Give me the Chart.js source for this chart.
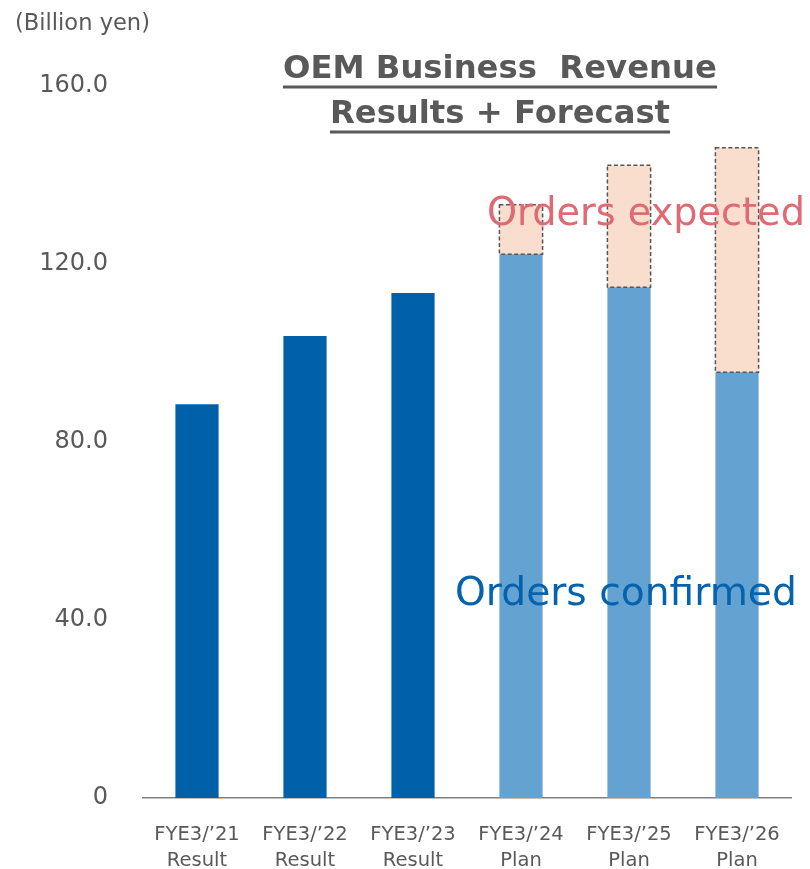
<!DOCTYPE html>
<html>
<head>
<meta charset="utf-8">
<script src="https://cdn.jsdelivr.net/npm/chart.js@4.4.1/dist/chart.umd.min.js"></script>
<style>
  html, body { margin: 0; padding: 0; background: #ffffff; }
  #wrap { position: relative; width: 810px; height: 869px; }
</style>
</head>
<body>
<div id="wrap"><canvas id="c" width="810" height="869"></canvas></div>
<script>
// ---- data ----
const categories = [["FYE3/\u201921", "Result"], ["FYE3/\u201922", "Result"], ["FYE3/\u201923", "Result"],
                    ["FYE3/\u201924", "Plan"], ["FYE3/\u201925", "Plan"], ["FYE3/\u201926", "Plan"]];
const resultValues    = [88.5, 103.8, 113.5, null, null, null];
const confirmedValues = [null, null, null, 122.2, 114.8, 95.7];
const expectedValues  = [null, null, null, 11.1, 27.4, 50.4];
const yTicks = [0, 40, 80, 120, 160];
const unitLabel = "(Billion yen)";
const titleLines = ["OEM Business  Revenue", "Results + Forecast"];
const expectedLabel = "Orders expected";
const confirmedLabel = "Orders confirmed";

const FONT = "'DejaVu Sans', Verdana, sans-serif";
const GREY = "#595959";

function fitFont(ctx, text, width, weight) {
  ctx.font = weight + " 40px " + FONT;
  const w = ctx.measureText(text).width;
  const size = 40 * width / w;
  ctx.font = weight + " " + size.toFixed(2) + "px " + FONT;
  return size;
}

const overlay = {
  id: 'overlay',
  afterDatasetsDraw(chart) {
    const ctx = chart.ctx;
    const meta = chart.getDatasetMeta(2);
    ctx.save();
    ctx.strokeStyle = "#555555";
    ctx.lineWidth = 1.5;
    ctx.setLineDash([4, 2.5]);
    meta.data.forEach((el, i) => {
      if (expectedValues[i] == null) return;
      const p = el.getProps(['x', 'y', 'base', 'width'], true);
      ctx.strokeRect(p.x - p.width / 2, p.y, p.width, p.base - p.y);
    });
    ctx.restore();
  },
  afterDraw(chart) {
    const ctx = chart.ctx;
    ctx.save();
    ctx.textBaseline = 'alphabetic';
    ctx.textAlign = 'left';
    ctx.fillStyle = GREY;
    fitFont(ctx, unitLabel, 135, 'normal');
    ctx.fillText(unitLabel, 15, 30);
    const t = [{x0: 283, x1: 717, base: 78, ul: 87}, {x0: 330, x1: 670, base: 123, ul: 132}];
    titleLines.forEach((line, i) => {
      fitFont(ctx, line, t[i].x1 - t[i].x0, 'bold');
      ctx.fillStyle = GREY;
      ctx.fillText(line, t[i].x0, t[i].base);
      ctx.fillRect(t[i].x0, t[i].ul - 1.5, t[i].x1 - t[i].x0, 3);
    });
    ctx.fillStyle = "#E06A74";
    fitFont(ctx, expectedLabel, 318, 'normal');
    ctx.fillText(expectedLabel, 487, 225);
    ctx.fillStyle = "#0563AE";
    fitFont(ctx, confirmedLabel, 342, 'normal');
    ctx.fillText(confirmedLabel, 455, 605);
    ctx.restore();
  }
};

new Chart(document.getElementById('c'), {
  type: 'bar',
  data: {
    labels: categories,
    datasets: [
      { label: 'Result', data: resultValues, backgroundColor: '#0060AA', stack: 's' },
      { label: 'Orders confirmed', data: confirmedValues, backgroundColor: '#64A2D2', stack: 's' },
      { label: 'Orders expected', data: expectedValues, backgroundColor: '#FADECD', stack: 's' }
    ]
  },
  options: {
    responsive: false,
    animation: false,
    devicePixelRatio: 1,
    layout: { padding: { top: 86, right: 19, left: 0, bottom: 0 } },
    datasets: { bar: { categoryPercentage: 1, barPercentage: 0.4 } },
    plugins: { legend: { display: false }, tooltip: { enabled: false }, title: { display: false } },
    scales: {
      x: {
        stacked: true,
        grid: { display: false, drawTicks: false },
        border: { display: true, color: '#808080', width: 1.5 },
        ticks: { color: GREY, font: { family: FONT, size: 19.5, lineHeight: 1.38 }, padding: 23, maxRotation: 0, autoSkip: false },
        afterFit(s) { s.height = 71; }
      },
      y: {
        stacked: true,
        min: 0, max: 160,
        afterBuildTicks(s) { s.ticks = yTicks.map(v => ({ value: v })); },
        grid: { display: false, drawTicks: false },
        border: { display: false },
        ticks: {
          color: GREY, font: { family: FONT, size: 24 }, padding: 35,
          callback: v => v === 0 ? '0' : v.toFixed(1)
        },
        afterFit(s) { s.width = 143; }
      }
    }
  },
  plugins: [overlay]
});
</script>
</body>
</html>
